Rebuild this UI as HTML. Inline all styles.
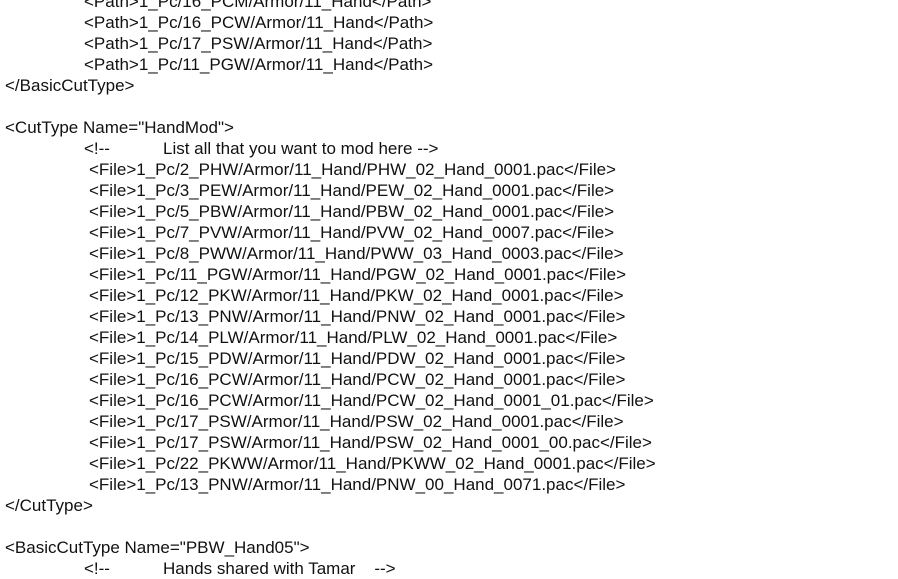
<!DOCTYPE html>
<html><head><meta charset="utf-8"><style>
html,body{margin:0;padding:0;background:#fff;width:898px;height:575px;overflow:hidden}
.c{position:absolute;left:0;top:-9px;font-family:"Liberation Sans","Noto Sans CJK SC",sans-serif;font-size:17px;line-height:21px;color:#111}
.l{height:21px;position:relative;white-space:pre}
.a{padding-left:5px}.b{padding-left:84px}.f{padding-left:89px}
</style></head><body><div class="c"><div class="l b">&lt;Path&gt;1_Pc/16_PCM/Armor/11_Hand&lt;/Path&gt;</div><div class="l b">&lt;Path&gt;1_Pc/16_PCW/Armor/11_Hand&lt;/Path&gt;</div><div class="l b">&lt;Path&gt;1_Pc/17_PSW/Armor/11_Hand&lt;/Path&gt;</div><div class="l b">&lt;Path&gt;1_Pc/11_PGW/Armor/11_Hand&lt;/Path&gt;</div><div class="l a">&lt;/BasicCutType&gt;</div><div class="l"></div><div class="l a">&lt;CutType Name="HandMod"&gt;</div><div class="l b">&lt;!--<span style="position:absolute;left:163px">List all that you want to mod here --&gt;</span></div><div class="l f">&lt;File&gt;1_Pc/2_PHW/Armor/11_Hand/PHW_02_Hand_0001.pac&lt;/File&gt;</div><div class="l f">&lt;File&gt;1_Pc/3_PEW/Armor/11_Hand/PEW_02_Hand_0001.pac&lt;/File&gt;</div><div class="l f">&lt;File&gt;1_Pc/5_PBW/Armor/11_Hand/PBW_02_Hand_0001.pac&lt;/File&gt;</div><div class="l f">&lt;File&gt;1_Pc/7_PVW/Armor/11_Hand/PVW_02_Hand_0007.pac&lt;/File&gt;</div><div class="l f">&lt;File&gt;1_Pc/8_PWW/Armor/11_Hand/PWW_03_Hand_0003.pac&lt;/File&gt;</div><div class="l f">&lt;File&gt;1_Pc/11_PGW/Armor/11_Hand/PGW_02_Hand_0001.pac&lt;/File&gt;</div><div class="l f">&lt;File&gt;1_Pc/12_PKW/Armor/11_Hand/PKW_02_Hand_0001.pac&lt;/File&gt;</div><div class="l f">&lt;File&gt;1_Pc/13_PNW/Armor/11_Hand/PNW_02_Hand_0001.pac&lt;/File&gt;</div><div class="l f">&lt;File&gt;1_Pc/14_PLW/Armor/11_Hand/PLW_02_Hand_0001.pac&lt;/File&gt;</div><div class="l f">&lt;File&gt;1_Pc/15_PDW/Armor/11_Hand/PDW_02_Hand_0001.pac&lt;/File&gt;</div><div class="l f">&lt;File&gt;1_Pc/16_PCW/Armor/11_Hand/PCW_02_Hand_0001.pac&lt;/File&gt;</div><div class="l f">&lt;File&gt;1_Pc/16_PCW/Armor/11_Hand/PCW_02_Hand_0001_01.pac&lt;/File&gt;</div><div class="l f">&lt;File&gt;1_Pc/17_PSW/Armor/11_Hand/PSW_02_Hand_0001.pac&lt;/File&gt;</div><div class="l f">&lt;File&gt;1_Pc/17_PSW/Armor/11_Hand/PSW_02_Hand_0001_00.pac&lt;/File&gt;</div><div class="l f">&lt;File&gt;1_Pc/22_PKWW/Armor/11_Hand/PKWW_02_Hand_0001.pac&lt;/File&gt;</div><div class="l f">&lt;File&gt;1_Pc/13_PNW/Armor/11_Hand/PNW_00_Hand_0071.pac&lt;/File&gt;</div><div class="l a">&lt;/CutType&gt;</div><div class="l"></div><div class="l a">&lt;BasicCutType Name="PBW_Hand05"&gt;</div><div class="l b">&lt;!--<span style="position:absolute;left:163px">Hands shared with Tamar&nbsp;&nbsp;&nbsp;&nbsp;--&gt;</span></div></div></body></html>
